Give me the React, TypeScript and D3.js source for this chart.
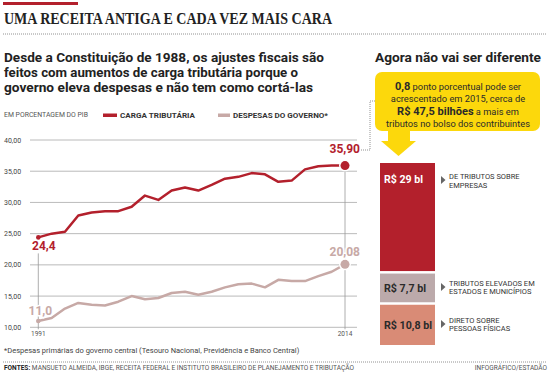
import React from "react";
import * as d3 from "d3";

const years = d3.range(1991, 2015);
const cargaTributaria = [24.4, 25.0, 25.3, 27.9, 28.4, 28.6, 28.6, 29.3, 31.1, 30.4, 31.9, 32.4, 31.9, 32.8, 33.8, 34.1, 34.7, 34.5, 33.3, 33.5, 35.3, 35.8, 35.9, 35.9];
const despesasGoverno = [11.0, 11.5, 13.0, 13.9, 13.6, 13.5, 14.1, 15.0, 14.5, 14.7, 15.5, 15.7, 15.2, 15.7, 16.4, 16.9, 17.0, 16.4, 17.6, 17.4, 17.4, 18.2, 18.9, 20.08];
const yTicks = [10, 15, 20, 25, 30, 35, 40];
const startLabels = ["24,4", "11,0"];
const endLabels = ["35,90", "20,08"];

const barCategories = ["R$ 29 bl", "R$ 7,7 bl", "R$ 10,8 bl"];
const barValues = [29, 7.7, 10.8];
const barNotes = [
  ["DE TRIBUTOS SOBRE", "EMPRESAS"],
  ["TRIBUTOS ELEVADOS EM", "ESTADOS E MUNICÍPIOS"],
  ["DIRETO SOBRE", "PESSOAS FÍSICAS"],
];

const RED = "#b3202c";
const PINK = "#c7a9a6";
const BAR_COLORS = [RED, "#bcaaab", "#d98b76"];
const BAR_TEXT = ["#ffffff", "#2a2a2a", "#2a2a2a"];
const YELLOW = "#fcd80c";
const SANS = "Roboto, 'Open Sans', sans-serif";

export default function App() {
  const x = d3.scaleLinear().domain([1991, 2014]).range([38.3, 345]);
  const y = d3.scaleLinear().domain([10, 40]).range([327.3, 140]);
  const line = d3
    .line<number>()
    .x((_, i) => x(years[i]))
    .y((d) => y(d))
    .curve(d3.curveLinear);

  const fmt = (v: number) => d3.format(".2f")(v).replace(".", ",");

  // stacked bars
  const barTop = 163;
  const barBottom = 345;
  const gap = 2.5;
  const total = d3.sum(barValues);
  const hScale = d3
    .scaleLinear()
    .domain([0, total])
    .range([0, barBottom - barTop - gap * (barValues.length - 1)]);
  let acc = barTop;
  const bars = barValues.map((v, i) => {
    const h = hScale(v);
    const b = { y: acc, h, i };
    acc += h + gap;
    return b;
  });
  const barX = 380;
  const barW = 55;

  const last = years.length - 1;

  return (
    <svg
      width={550}
      height={375}
      style={{ position: "absolute", left: 0, top: 0, background: "#fff" }}
      fontFamily={SANS}
    >
      <rect x={0} y={0} width={550} height={375} fill="#fff" />
      {/* Title */}
      <rect x={3} y={2} width={75} height={3} fill={RED} />
      <text
        x={4}
        y={24}
        fontFamily="'Liberation Serif', 'DejaVu Serif', serif"
        fontWeight="bold"
        fontSize={16}
        fill="#222"
        textLength={328}
        lengthAdjust="spacingAndGlyphs"
      >
        UMA RECEITA ANTIGA E CADA VEZ MAIS CARA
      </text>
      <line x1={3} x2={547} y1={34} y2={34} stroke="#777" strokeWidth={0.8} strokeDasharray="1,1" />

      {/* Subtitle */}
      {[
        ["Desde a Constituição de 1988, os ajustes fiscais são", 320],
        ["feitos com aumentos de carga tributária porque o", 294],
        ["governo eleva despesas e não tem como cortá-las", 309],
      ].map(([t, w], i) => (
        <text
          key={i}
          x={4}
          y={62 + i * 15}
          fontWeight="bold"
          fontSize={13}
          fill="#222"
          textLength={w as number}
          lengthAdjust="spacingAndGlyphs"
        >
          {t}
        </text>
      ))}

      {/* Legend */}
      <text x={4} y={117} fontSize={6.5} fill="#555" textLength={84} lengthAdjust="spacingAndGlyphs">
        EM PORCENTAGEM DO PIB
      </text>
      <rect x={103} y={113.5} width={14} height={3.5} fill={RED} />
      <text x={120} y={117.5} fontSize={7.5} fontWeight="bold" fill="#333" textLength={75} lengthAdjust="spacingAndGlyphs">
        CARGA TRIBUTÁRIA
      </text>
      <rect x={218} y={113.5} width={12} height={3.5} fill={PINK} />
      <text x={233} y={117.5} fontSize={7.5} fontWeight="bold" fill="#333" textLength={95} lengthAdjust="spacingAndGlyphs">
        DESPESAS DO GOVERNO*
      </text>

      {/* Grid and y ticks */}
      {yTicks.map((t) => (
        <g key={t}>
          <line x1={30} x2={357} y1={y(t)} y2={y(t)} stroke="#a8a8a8" strokeWidth={0.8} />
          <text x={4} y={y(t) + 2.5} fontSize={7} fill="#444">
            {fmt(t)}
          </text>
        </g>
      ))}

      {/* vertical marker lines */}
      <line x1={x(1991)} x2={x(1991)} y1={y(cargaTributaria[0]) + 16} y2={y(10) + 2} stroke="#999" strokeWidth={0.8} />
      <line x1={x(2014)} x2={x(2014)} y1={y(cargaTributaria[last])} y2={y(10) + 2} stroke="#999" strokeWidth={0.8} />

      {/* x labels */}
      <text x={x(1991)} y={336} fontSize={6.5} fill="#555" textAnchor="middle">1991</text>
      <text x={x(2014)} y={336} fontSize={6.5} fill="#555" textAnchor="middle">2014</text>

      {/* Lines */}
      <path d={line(despesasGoverno) || ""} fill="none" stroke={PINK} strokeWidth={2.5} strokeLinejoin="round" />
      <path d={line(cargaTributaria) || ""} fill="none" stroke={RED} strokeWidth={2.5} strokeLinejoin="round" />

      {/* start dots & labels */}
      <circle cx={x(1991)} cy={y(cargaTributaria[0])} r={2.3} fill={RED} />
      <circle cx={x(1991)} cy={y(despesasGoverno[0])} r={2.3} fill={PINK} />
      <text
        x={32}
        y={y(cargaTributaria[0]) + 13}
        fontSize={12}
        fontWeight="bold"
        fill={RED}
        stroke="#fff"
        strokeWidth={3}
        paintOrder="stroke"
      >
        {startLabels[0]}
      </text>
      <text
        x={28.5}
        y={y(despesasGoverno[0]) - 6}
        fontSize={12}
        fontWeight="bold"
        fill={PINK}
        stroke="#fff"
        strokeWidth={3}
        paintOrder="stroke"
      >
        {startLabels[1]}
      </text>

      {/* end dots & labels */}
      <circle cx={x(2014)} cy={y(cargaTributaria[last])} r={4.5} fill={RED} stroke="#fff" strokeWidth={3} paintOrder="stroke" />
      <circle cx={x(2014)} cy={y(despesasGoverno[last])} r={4.5} fill={PINK} stroke="#fff" strokeWidth={3} paintOrder="stroke" />
      <text
        x={360}
        y={y(cargaTributaria[last]) - 13}
        fontSize={12}
        fontWeight="bold"
        fill={RED}
        textAnchor="end"
        stroke="#fff"
        strokeWidth={3}
        paintOrder="stroke"
      >
        {endLabels[0]}
      </text>
      <text
        x={360}
        y={y(despesasGoverno[last]) - 8}
        fontSize={12}
        fontWeight="bold"
        fill={PINK}
        textAnchor="end"
        stroke="#fff"
        strokeWidth={3}
        paintOrder="stroke"
      >
        {endLabels[1]}
      </text>

      {/* dotted connector */}
      <path d="M361,150 H370 V101 H375" fill="none" stroke="#777" strokeWidth={0.8} strokeDasharray="1,1" />

      {/* Right panel */}
      <text x={375} y={62} fontSize={13.5} fontWeight="bold" fill="#222" textLength={166} lengthAdjust="spacingAndGlyphs">
        Agora não vai ser diferente
      </text>
      <rect x={375} y={72} width={165} height={59} rx={7} fill={YELLOW} />
      <rect x={388} y={125} width={22} height={18} fill={YELLOW} />
      <polygon points="381,141 416,141 398.5,156" fill={YELLOW} />
      <g fontSize={9.3} fill="#2a2a2a" textAnchor="middle">
        <text x={458} y={90}>
          <tspan fontWeight="bold" fontSize={11}>0,8</tspan> ponto porcentual pode ser
        </text>
        <text x={458} y={102}>acrescentado em 2015, cerca de</text>
        <text x={458} y={115}>
          <tspan fontWeight="bold" fontSize={11}>R$ 47,5 bilhões</tspan> a mais em
        </text>
        <text x={458} y={127}>tributos no bolso dos contribuintes</text>
      </g>

      {bars.map((b) => (
        <g key={b.i}>
          <rect x={barX} y={b.y} width={barW} height={b.h} fill={BAR_COLORS[b.i]} />
          <text
            x={barX + 4}
            y={b.i === 0 ? b.y + 20 : b.y + b.h / 2 + 4}
            fontSize={11}
            fontWeight="bold"
            fill={BAR_TEXT[b.i]}
            textLength={b.i === 2 ? 48 : b.i === 1 ? 42 : 39}
            lengthAdjust="spacingAndGlyphs"
          >
            {barCategories[b.i]}
          </text>
          {(() => {
            const ty = b.i === 0 ? b.y + 17 : b.y + b.h / 2 - 1;
            return (
              <g>
                <polygon points={`${441},${ty - 4} ${445.5},${ty} ${441},${ty + 4}`} fill="#666" />
                {barNotes[b.i].map((n, k) => (
                  <text key={k} x={449} y={ty - 1 + k * 8.5} fontSize={7.5} fill="#333">
                    {n}
                  </text>
                ))}
              </g>
            );
          })()}
        </g>
      ))}

      {/* Footer */}
      <text x={4} y={353} fontSize={7.5} fill="#444">
        *Despesas primárias do governo central (Tesouro Nacional, Previdência e Banco Central)
      </text>
      <line x1={3} x2={547} y1={362} y2={362} stroke="#777" strokeWidth={0.8} strokeDasharray="1,1" />
      <text x={4} y={370} fontSize={6.5} fill="#555" textLength={350} lengthAdjust="spacingAndGlyphs">
        <tspan fontWeight="bold" fill="#222">FONTES:</tspan> MANSUETO ALMEIDA, IBGE,  RECEITA FEDERAL E INSTITUTO BRASILEIRO DE PLANEJAMENTO E TRIBUTAÇÃO
      </text>
      <text x={547} y={370} fontSize={6.5} fill="#555" textAnchor="end">
        INFOGRÁFICO/ESTADÃO
      </text>
    </svg>
  );
}
